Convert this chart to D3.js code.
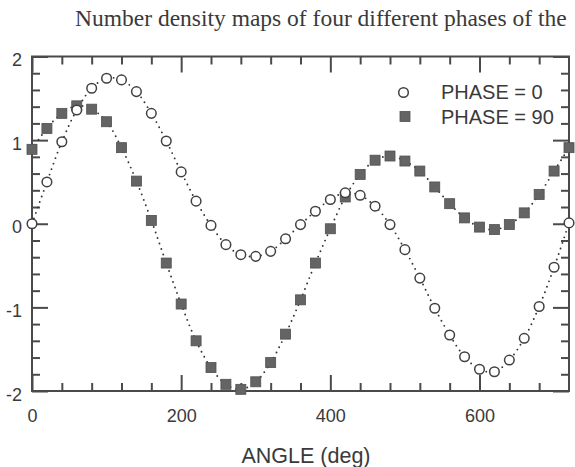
<!DOCTYPE html>
<html>
<head>
<meta charset="utf-8">
<script src="https://cdn.jsdelivr.net/npm/d3@7"></script>
<style>
	body { margin: 0; background: #fff; }
	svg { display: block; }
</style>
</head>
<body>
<svg id="chart" width="575" height="467"></svg>
<script>
// angles (deg) of the sample points
const angles = [0, 20, 40, 60, 80, 100, 120, 140, 160, 180, 200, 220, 240, 260, 280, 300, 320, 340, 360,
	380, 400, 420, 440, 460, 480, 500, 520, 540, 560, 580, 600, 620, 640, 660, 680, 700, 720];

// PHASE = 0 (open circles)
const phase0 = [0.00, 0.50, 0.98, 1.36, 1.62, 1.74, 1.72, 1.58, 1.32, 0.99, 0.62, 0.27, -0.02, -0.25, -0.37, -0.39, -0.33, -0.18, -0.01,
	0.15, 0.29, 0.37, 0.34, 0.21, -0.01, -0.31, -0.65, -1.01, -1.33, -1.59, -1.74, -1.77, -1.63, -1.37, -0.99, -0.52, 0.01];

// PHASE = 90 (filled squares)
const phase90 = [0.89, 1.14, 1.32, 1.41, 1.37, 1.22, 0.91, 0.51, 0.04, -0.47, -0.96, -1.40, -1.72, -1.92, -1.98, -1.89, -1.66, -1.32, -0.91,
	-0.47, -0.06, 0.32, 0.59, 0.76, 0.81, 0.75, 0.63, 0.44, 0.24, 0.07, -0.04, -0.07, -0.01, 0.13, 0.35, 0.63, 0.91];

const xMajor = [0, 200, 400, 600];
const xMinor = [40, 80, 120, 160, 240, 280, 320, 360, 440, 480, 520, 560, 640, 680];
const yMajor = [-2, -1, 0, 1, 2];
const yMinor = [-1.8, -1.6, -1.4, -1.2, -0.8, -0.6, -0.4, -0.2, 0.2, 0.4, 0.6, 0.8, 1.2, 1.4, 1.6, 1.8];

const titleText = "Number density maps of four different phases of the";
const xLabel = "ANGLE (deg)";
const legendNames = ["PHASE = 0", "PHASE = 90"];

const svg = d3.select("#chart");
const ink = "#4a4a4a";

const x = d3.scaleLinear().domain([0, 720]).range([32, 569]);
const y = d3.scaleLinear().domain([-2, 2]).range([391, 56.5]);

// plain hyphen for negatives, like the original
const plain = function(d) { return String(d); };

// title (cut off on the right like the scan)
svg.append("text")
	.attr("x", 75)
	.attr("y", 26)
	.attr("font-family", "'Liberation Serif', 'Times New Roman', serif")
	.attr("font-size", 23.5)
	.attr("fill", "#3a3a3a")
	.text(titleText);

// frame
svg.append("rect")
	.attr("x", x(0))
	.attr("y", y(2))
	.attr("width", x(720) - x(0))
	.attr("height", y(-2) - y(2))
	.attr("fill", "none")
	.attr("stroke", ink)
	.attr("stroke-width", 2);

function styleAxis(g) {
	g.select(".domain").remove();
	g.selectAll(".tick line").attr("stroke", ink).attr("stroke-width", 2);
	g.selectAll(".tick text")
		.attr("fill", "#3a3a3a")
		.attr("font-family", "'Liberation Sans', Arial, sans-serif")
		.attr("font-size", 18);
}

// bottom + top
svg.append("g")
	.attr("transform", "translate(0," + y(-2) + ")")
	.call(d3.axisBottom(x).tickValues(xMajor).tickSize(-16).tickPadding(18).tickFormat(plain))
	.call(styleAxis);
svg.append("g")
	.attr("transform", "translate(0," + y(-2) + ")")
	.call(d3.axisBottom(x).tickValues(xMinor).tickSize(-8).tickFormat(""))
	.call(styleAxis);
svg.append("g")
	.attr("transform", "translate(0," + y(2) + ")")
	.call(d3.axisTop(x).tickValues(xMajor).tickSize(-16).tickFormat(""))
	.call(styleAxis);
svg.append("g")
	.attr("transform", "translate(0," + y(2) + ")")
	.call(d3.axisTop(x).tickValues(xMinor).tickSize(-8).tickFormat(""))
	.call(styleAxis);

// left + right
svg.append("g")
	.attr("transform", "translate(" + x(0) + ",0)")
	.call(d3.axisLeft(y).tickValues(yMajor).tickSize(-16).tickPadding(10).tickFormat(plain))
	.call(styleAxis)
	.selectAll(".tick text").attr("dy", "0.5em");
svg.append("g")
	.attr("transform", "translate(" + x(0) + ",0)")
	.call(d3.axisLeft(y).tickValues(yMinor).tickSize(-8).tickFormat(""))
	.call(styleAxis);
svg.append("g")
	.attr("transform", "translate(" + x(720) + ",0)")
	.call(d3.axisRight(y).tickValues(yMajor).tickSize(-16).tickFormat(""))
	.call(styleAxis);
svg.append("g")
	.attr("transform", "translate(" + x(720) + ",0)")
	.call(d3.axisRight(y).tickValues(yMinor).tickSize(-8).tickFormat(""))
	.call(styleAxis);

// x label
svg.append("text")
	.attr("x", 306)
	.attr("y", 463)
	.attr("text-anchor", "middle")
	.attr("font-family", "'Liberation Sans', Arial, sans-serif")
	.attr("font-size", 21.5)
	.attr("fill", "#3a3a3a")
	.text(xLabel);

// dotted curves
const line = d3.line()
	.x(function(d, i) { return x(angles[i]); })
	.y(function(d) { return y(d); })
	.curve(d3.curveCatmullRom);

[phase0, phase90].forEach(function(s) {
	svg.append("path")
		.attr("d", line(s))
		.attr("fill", "none")
		.attr("stroke", "#333")
		.attr("stroke-width", 1.9)
		.attr("stroke-linecap", "round")
		.attr("stroke-dasharray", "0,5.8");
});

// squares
svg.append("g").selectAll("rect")
	.data(phase90)
	.join("rect")
	.attr("x", function(d, i) { return x(angles[i]) - 5; })
	.attr("y", function(d) { return y(d) - 5; })
	.attr("width", 10)
	.attr("height", 10)
	.attr("fill", "#646464")
	.attr("stroke", "#505050")
	.attr("stroke-width", 0.8);

// circles
svg.append("g").selectAll("circle")
	.data(phase0)
	.join("circle")
	.attr("cx", function(d, i) { return x(angles[i]); })
	.attr("cy", function(d) { return y(d); })
	.attr("r", 4.8)
	.attr("fill", "#fff")
	.attr("stroke", "#404040")
	.attr("stroke-width", 1.5);

// legend
const legend = svg.append("g");
legend.append("circle")
	.attr("cx", 403.5).attr("cy", 92.5).attr("r", 4.8)
	.attr("fill", "#fff").attr("stroke", "#404040").attr("stroke-width", 1.5);
legend.append("rect")
	.attr("x", 400).attr("y", 111.5).attr("width", 10).attr("height", 10)
	.attr("fill", "#646464").attr("stroke", "#505050").attr("stroke-width", 0.8);
legend.selectAll("text")
	.data(legendNames)
	.join("text")
	.attr("x", 441)
	.attr("y", function(d, i) { return 98.5 + i * 25; })
	.attr("font-family", "'Liberation Sans', Arial, sans-serif")
	.attr("font-size", 20)
	.attr("fill", "#3a3a3a")
	.text(function(d) { return d; });
</script>
</body>
</html>
